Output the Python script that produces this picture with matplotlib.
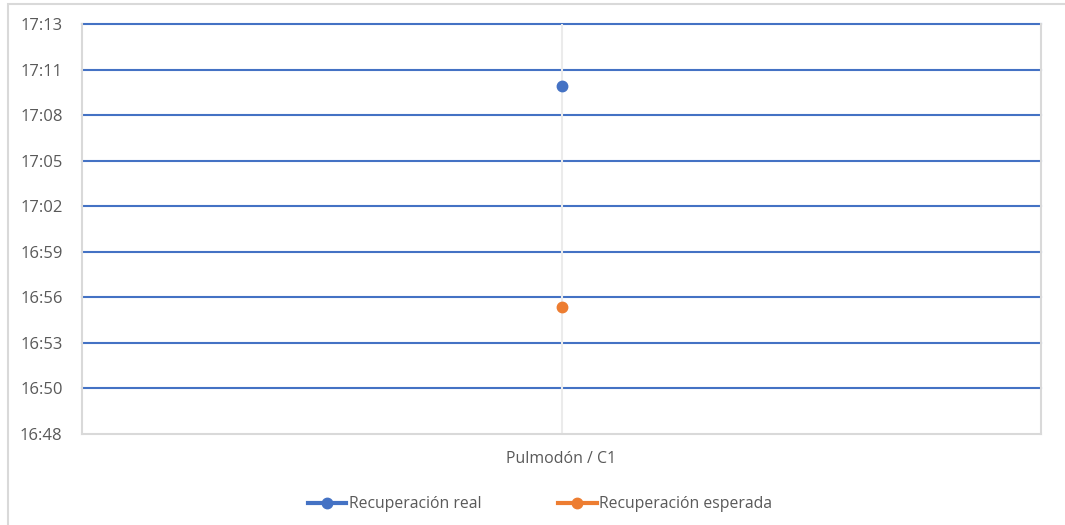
import matplotlib
matplotlib.use("Agg")
import matplotlib.pyplot as plt
from matplotlib.lines import Line2D
from matplotlib.patches import Rectangle

plt.rcParams['font.family'] = ['Open Sans', 'DejaVu Sans']

categories = ["Pulmodón / C1"]
real_times = ["17:10"]
expected_times = ["16:56"]
series_names = ["Recuperación real", "Recuperación esperada"]
y_tick_days = [0.700, 0.702, 0.704, 0.706, 0.708, 0.710, 0.712, 0.714, 0.716, 0.718]
y_tick_labels = ["16:48", "16:50", "16:53", "16:56", "16:59", "17:02", "17:05", "17:08", "17:11", "17:13"]

def to_day(t):
    h, m = t.split(":")
    return (int(h) * 60 + int(m)) / 1440.0

real_vals = [to_day(t) for t in real_times]
exp_vals = [to_day(t) for t in expected_times]

BLUE = "#4472C4"
ORANGE = "#ED7D31"
GRAY_TXT = "#595959"
GRID_GRAY = "#D9D9D9"

fig = plt.figure(figsize=(10.65, 5.25), dpi=100)
ax = fig.add_axes([82/1065, 1 - 434/525, (1041 - 82)/1065, (434 - 24)/525])

# outer chart border
fig.patches.append(Rectangle((8/1065, -0.1), 1.2, (521/525) + 0.1, transform=fig.transFigure,
                             fill=False, edgecolor=GRID_GRAY, linewidth=1.5, zorder=0))

x = list(range(len(categories)))
ax.set_xlim(-0.5, len(categories) - 0.5)
ax.set_ylim(y_tick_days[0], y_tick_days[-1])

for yt in y_tick_days[1:]:
    ax.axhline(yt, color=BLUE, linewidth=1.5, zorder=1, clip_on=False)
for xi in x:
    ax.axvline(xi, color="#EBEBEB", linewidth=1.5, zorder=1)

ax.plot(x, real_vals, linestyle="none", marker="o", markersize=7.5, color=BLUE, zorder=3)
ax.plot(x, exp_vals, linestyle="none", marker="o", markersize=7.5, color=ORANGE, zorder=3)

ax.set_yticks(y_tick_days)
ax.set_yticklabels(y_tick_labels)
ax.set_xticks(x)
ax.set_xticklabels(categories)
ax.tick_params(axis="both", length=0, colors=GRAY_TXT)
ax.tick_params(axis="y", pad=14, labelsize=12)
ax.tick_params(axis="x", pad=12.5, labelsize=11.4)

for side in ["left", "right", "bottom"]:
    ax.spines[side].set_color(GRID_GRAY)
    ax.spines[side].set_linewidth(1.5)
ax.spines["top"].set_visible(False)

handles = [
    Line2D([0], [0], color=BLUE, linewidth=3, marker="o", markersize=7.5),
    Line2D([0], [0], color=ORANGE, linewidth=3, marker="o", markersize=7.5),
]
fig.legend(handles, series_names, loc="center", bbox_to_anchor=(540/1065, 1 - 504/525),
           ncol=2, frameon=False, fontsize=11.3, labelcolor=GRAY_TXT,
           handlelength=2.45, handletextpad=0.15, columnspacing=4.9)

fig.savefig("out.png", dpi=100)
